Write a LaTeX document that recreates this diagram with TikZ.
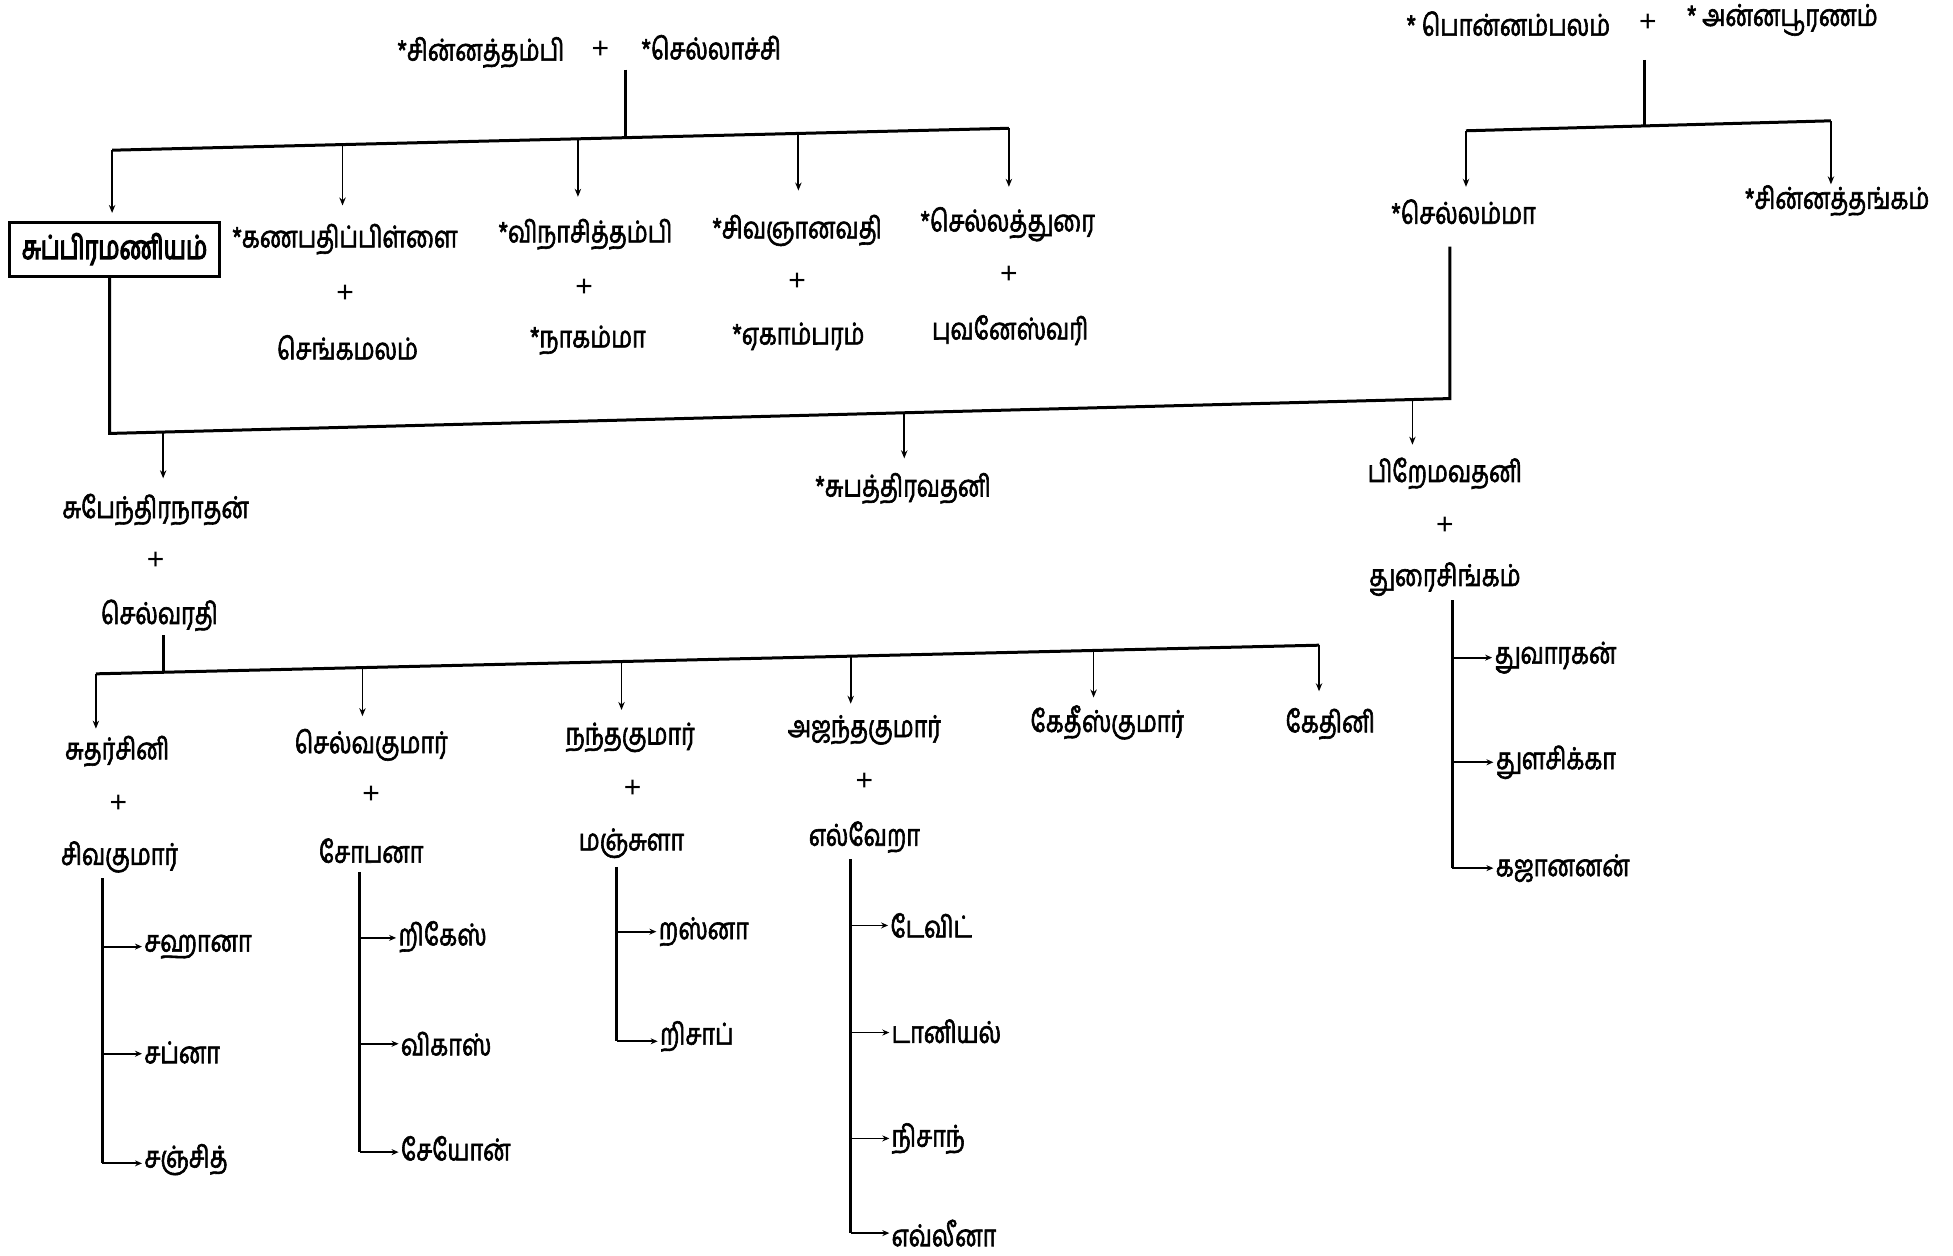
\documentclass[tikz,border=0pt]{standalone}
\usepackage{fontspec}
\newfontfamily\ta[Script=Tamil,FakeStretch=0.78,BoldFont={Hind Madurai},BoldFeatures={FakeBold=2}]{Hind Madurai}
\newfontfamily\tabox[Script=Tamil,FakeStretch=0.72,BoldFont={Hind Madurai},BoldFeatures={FakeBold=3.5}]{Hind Madurai}
\newfontfamily\plusfont{Liberation Sans}
\usetikzlibrary{arrows.meta}
\begin{document}
\begin{tikzpicture}[x=0.6227pt,y=-0.6227pt,
  lbl/.style={font=\ta\bfseries\fontsize{15}{17}\selectfont, inner sep=1pt},
  pls/.style={font=\plusfont\fontsize{15}{17}\selectfont, inner sep=1pt},
  kidl/.style={lbl, anchor=west},
  bar/.style={line width=1.5pt},
  drop/.style={line width=0.9pt,-{Stealth[length=4pt,width=3.2pt]}},
  kid/.style={line width=0.9pt,-{Stealth[length=3.5pt,width=3pt]}},
  namebox/.style={draw, line width=1.4pt, font=\tabox\bfseries\fontsize{16.5}{18}\selectfont, minimum width=105pt, minimum height=27pt, inner sep=2pt}]
\useasboundingbox (0,0) rectangle (1568,1008);
\fill[white] (0,0) rectangle (1568,1008);

% ---------- top-left grandparents ----------
\node[lbl] (ct) at (386,42) {*சின்னத்தம்பி};
\node[pls] (pl1) at (482,40) {+};
\node[lbl] (sl) at (571,38) {*செல்லாச்சி};
\coordinate (b1l) at (90,120.6);
\coordinate (b1m) at (502,110.3);
\coordinate (b1r) at (810,103);
\draw[bar] (502,56) -- (b1m);
\draw[bar] (b1l) -- (b1r);

\node[namebox] (sub) at (92,200) {சுப்பிரமணியம்};
\node[lbl] (kan) at (277,192) {*கணபதிப்பிள்ளை};
\node[pls] (pk) at (277,236) {+};
\node[lbl] (sen) at (279,279) {செங்கமலம்};
\node[lbl] (vin) at (470,188) {*விநாசித்தம்பி};
\node[pls] (pv) at (469,231) {+};
\node[lbl] (nag) at (472,273) {*நாகம்மா};
\node[lbl] (siv) at (640,185) {*சிவஞானவதி};
\node[pls] (ps) at (640,226) {+};
\node[lbl] (eka) at (641,270) {*ஏகாம்பரம்};
\node[lbl] (sel) at (809,180) {*செல்லத்துரை};
\node[pls] (pse) at (810,221) {+};
\node[lbl] (puv) at (811,265) {புவனேஸ்வரி};

\draw[drop] (b1l) -- (90,171);
\draw[drop] (275,115.6) -- (275,165);
\draw[drop] (464,111.2) -- (464,158);
\draw[drop] (641,107) -- (641,153);
\draw[drop] (b1r) -- (810,150);

% ---------- top-right grandparents ----------
\node[lbl] (pon) at (1211,19) {* பொன்னம்பலம்};
\node[pls] (pl2) at (1323,18) {+};
\node[lbl] (ann) at (1431,16) {* அன்னபூரணம்};
\coordinate (b2l) at (1177,105);
\coordinate (b2m) at (1320,101);
\coordinate (b2r) at (1470,97);
\draw[bar] (1320,48) -- (b2m);
\draw[bar] (b2l) -- (b2r);
\node[lbl] (sma) at (1175,170) {*செல்லம்மா};
\node[lbl] (cth) at (1475,161) {*சின்னத்தங்கம்};
\draw[drop] (b2l) -- (1177,150);
\draw[drop] (b2r) -- (1470,148);

% ---------- marriage line Subramaniam + Sellamma ----------
\coordinate (m1) at (88,348);
\coordinate (m2) at (1164,320);
\draw[bar] (sub.south -| m1) -- (m1) -- (m2) -- (1164,198);

\node[lbl] (sube) at (125,409) {சுபேந்திரநாதன்};
\node[pls] (ps1) at (125,450) {+};
\node[lbl] (selv) at (128,494) {செல்வரதி};
\node[lbl] (subh) at (725,392) {*சுபத்திரவதனி};
\node[lbl] (prem) at (1160,380) {பிறேமவதனி};
\node[pls] (pp1) at (1160,422) {+};
\node[lbl] (dur) at (1160,465) {துரைசிங்கம்};

\draw[drop] (131,346.9) -- (131,384);
\draw[drop] (726,331.4) -- (726,368);
\draw[drop] (1134,320.8) -- (1134,357);

% ---------- Duraisingam's children ----------
\node[kidl] (duv) at (1198,528) {துவாரகன்};
\node[kidl] (tul) at (1199,612) {துளசிக்கா};
\node[kidl] (kaj) at (1199,697) {கஜானனன்};
\draw[bar] (1166,482) -- (1166,697);
\draw[kid] (1166,697) -- (kaj.west);
\draw[kid] (1167,528) -- (duv.west);
\draw[kid] (1167,612) -- (tul.west);

% ---------- Subendranathan's children ----------
\coordinate (g1) at (77,541);
\coordinate (g2) at (1059,518);
\draw[bar] (131,510) -- (131,539.7);
\draw[bar] (g1) -- (g2);
\draw[drop] (g1) -- (77,585);
\draw[drop] (291,536) -- (291,575);
\draw[drop] (499,531.1) -- (499,570);
\draw[drop] (683,526.8) -- (683,565);
\draw[drop] (878,522.2) -- (878,560);
\draw[drop] (g2) -- (1059,555);

\node[lbl] (sud) at (94,603) {சுதர்சினி};
\node[lbl] (sel2) at (298,598) {செல்வகுமார்};
\node[lbl] (nan) at (506,592) {நந்தகுமார்};
\node[lbl] (aja) at (694,586) {அஜந்தகுமார்};
\node[lbl] (ket) at (889,580) {கேதீஸ்குமார்};
\node[lbl] (ketn) at (1068,581) {கேதினி};
\node[pls] (q1) at (95,645) {+};
\node[pls] (q2) at (298,638) {+};
\node[pls] (q3) at (508,633) {+};
\node[pls] (q4) at (694,628) {+};
\node[lbl] (svk) at (96,688) {சிவகுமார்};
\node[lbl] (sob) at (298,683) {சோபனா};
\node[lbl] (man) at (507,677) {மஞ்சுளா};
\node[lbl] (elv) at (694,672) {எல்வேறா};

% ---------- great-grandchildren ----------
\node[kidl] (sah) at (114,760) {சஹானா};
\node[kidl] (sap) at (114,845) {சப்னா};
\node[kidl] (san) at (114,931) {சஞ்சித்};
\draw[bar] (82,705) -- (82,934);
\draw[kid] (82,934) -- (san.west |- 0,934);
\draw[kid] (83,760) -- (sah.west);
\draw[kid] (83,846) -- (sap.west |- 0,846);

\node[kidl] (rik) at (318,752) {றிகேஸ்};
\node[kidl] (vik) at (320,838) {விகாஸ்};
\node[kidl] (sey) at (320,922) {சேயோன்};
\draw[bar] (289,700) -- (289,925);
\draw[kid] (289,925) -- (sey.west |- 0,925);
\draw[kid] (290,753) -- (rik.west |- 0,753);
\draw[kid] (290,838) -- (vik.west);

\node[kidl] (ras) at (527,748) {றஸ்னா};
\node[kidl] (ris) at (528,832) {றிசாப்};
\draw[bar] (495,696) -- (495,836);
\draw[kid] (495,836) -- (ris.west |- 0,836);
\draw[kid] (496,748) -- (ras.west);

\node[kidl] (dav) at (713,743) {டேவிட்};
\node[kidl] (dan) at (714,828) {டானியல்};
\node[kidl] (nis) at (714,914) {நிசாந்};
\node[kidl] (evl) at (714,990) {எவ்லீனா};
\draw[bar] (683,690) -- (683,990);
\draw[kid] (683,990) -- (evl.west);
\draw[kid] (684,743) -- (dav.west);
\draw[kid] (684,829) -- (dan.west |- 0,829);
\draw[kid] (684,914) -- (nis.west);
\end{tikzpicture}
\end{document}
